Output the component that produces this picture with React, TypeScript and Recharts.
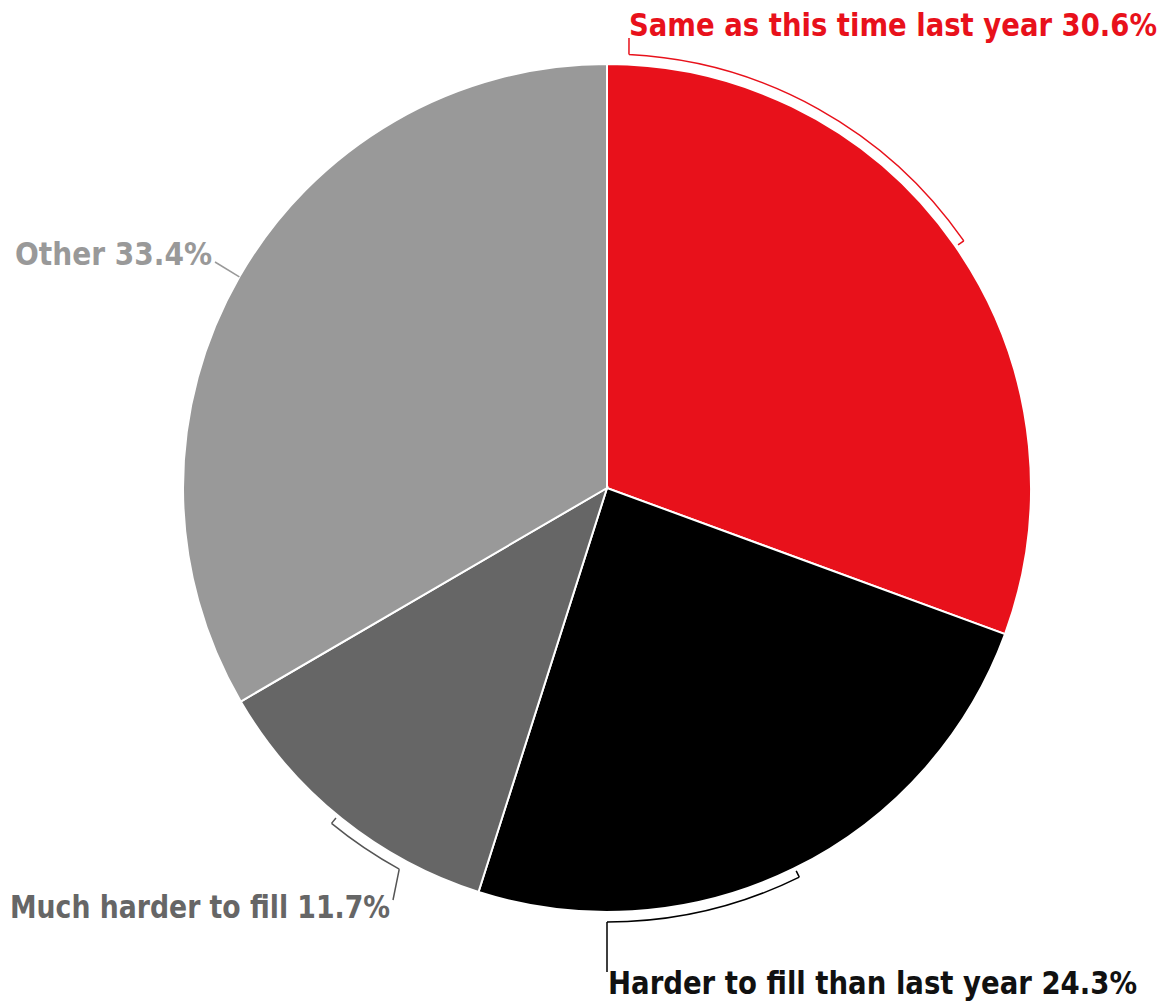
import React from "react";
import { PieChart, Pie, Cell } from "recharts";

const categories = [
  "Same as this time last year",
  "Harder to fill than last year",
  "Much harder to fill",
  "Other",
];
const shares = [30.6, 24.3, 11.7, 33.4];
const valueLabels = ["30.6%", "24.3%", "11.7%", "33.4%"];

const COLORS = ["#E8111B", "#000000", "#666666", "#999999"];
const TEXT_COLORS = ["#E8111B", "#111111", "#666666", "#999999"];

const data = categories.map((name, i) => ({ name, value: shares[i], label: valueLabels[i] }));

const W = 1165;
const H = 1005;
const CX = 607;
const CY = 488;
const R = 424;

// bracket geometry (degrees clockwise from 12 o'clock)
const brackets: ({ a0: number; a1: number; tickAt: number; conn: number } | null)[] = [
  { a0: 2.9, a1: 55.3, tickAt: 55.3, conn: 2.9 },
  { a0: 153.7, a1: 180, tickAt: 153.7, conn: 180 },
  { a0: 208.6, a1: 219.4, tickAt: 219.4, conn: 208.6 },
  null,
];
const textPos = [
  { x: 1157, y: 36, anchor: "end", len: 528 },
  { x: 1137, y: 994, anchor: "end", len: 529 },
  { x: 390, y: 918, anchor: "end", len: 380 },
  { x: 212, y: 265, anchor: "end", len: 197 },
];
const connEnd = [
  { x: 629, y: 38 },
  { x: 607, y: 972 },
  { x: 393, y: 900 },
  { x: 215, y: 262 },
];

const pt = (cx: number, cy: number, r: number, deg: number) => {
  const t = (deg * Math.PI) / 180;
  return { x: cx + r * Math.sin(t), y: cy - r * Math.cos(t) };
};

const renderLabel = (props: any) => {
  const { index } = props;
  const cx = props.cx ?? CX;
  const cy = props.cy ?? CY;
  const outer = props.outerRadius ?? R;
  const total = shares.reduce((a, b) => a + b, 0);
  let start = 0;
  for (let i = 0; i < index; i++) start += (shares[i] / total) * 360;
  const end = start + (shares[index] / total) * 360;
  const mid = (start + end) / 2;
  const color = COLORS[index];
  const lineColor = index === 3 ? "#999999" : index === 2 ? "#555555" : color;
  const br = brackets[index];
  const rArc = outer + 10;
  const rTick = outer + 3;
  const tp = textPos[index];
  const ce = connEnd[index];
  let path = "";
  if (br) {
    const p0 = pt(cx, cy, rArc, br.a0);
    const p1 = pt(cx, cy, rArc, br.a1);
    const tIn = pt(cx, cy, rTick, br.tickAt);
    const tOut = pt(cx, cy, rArc, br.tickAt);
    const c = pt(cx, cy, rArc, br.conn);
    path = `M${p0.x},${p0.y} A${rArc},${rArc} 0 0 1 ${p1.x},${p1.y} M${tOut.x},${tOut.y} L${tIn.x},${tIn.y} M${c.x},${c.y} L${ce.x},${ce.y}`;
  } else {
    const p = pt(cx, cy, outer, mid);
    path = `M${p.x},${p.y} L${ce.x},${ce.y}`;
  }
  return (
    <g key={`lbl-${index}`}>
      <path d={path} fill="none" stroke={lineColor} strokeWidth={1.5} />
      <text
        x={tp.x}
        y={tp.y}
        textAnchor={tp.anchor as any}
        fill={TEXT_COLORS[index]}
        fontFamily="'DejaVu Sans Condensed', 'Liberation Sans Narrow', Roboto, sans-serif"
        fontWeight={700}
        fontSize={32}
        textLength={tp.len}
        lengthAdjust="spacingAndGlyphs"
      >
        {`${categories[index]} ${valueLabels[index]}`}
      </text>
    </g>
  );
};

export default function App() {
  return (
    <div style={{ position: "absolute", left: 0, top: 0, width: W, height: H, background: "#fff" }}>
      <PieChart width={W} height={H} margin={{ top: 0, right: 0, bottom: 0, left: 0 }}>
        <Pie
          data={data}
          dataKey="value"
          nameKey="name"
          cx={CX}
          cy={CY}
          outerRadius={R}
          innerRadius={0}
          startAngle={90}
          endAngle={-270}
          stroke="#ffffff"
          strokeWidth={2}
          label={renderLabel}
          labelLine={false}
          isAnimationActive={false}
        >
          {data.map((d, i) => (
            <Cell key={d.name} fill={COLORS[i]} />
          ))}
        </Pie>
      </PieChart>
    </div>
  );
}
